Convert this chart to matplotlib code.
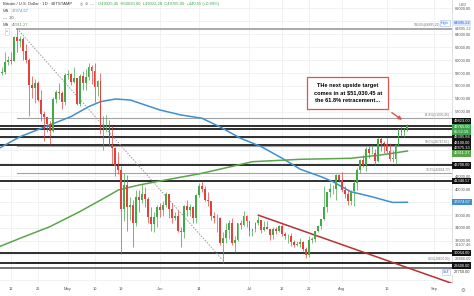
import matplotlib.pyplot as plt
import matplotlib.dates as mdates
import matplotlib.transforms as mtransforms
import numpy as np
import pandas as pd

# daily BTC/USD candles, 2021-04-08 .. 2021-08-23
start = "2021-04-08"
opens = [56000, 58080, 58100, 59770, 59990, 59840, 63580, 62950, 63200, 61380, 60020, 56200, 55700, 56480, 53800, 51700,
         51150, 50050, 49000, 54000, 55030, 54840, 53550,
         57750, 57800, 56600, 57200, 53250, 57480, 56440, 57380, 58900, 58280, 55860, 56700, 49400, 49700, 49900, 46800,
         46400, 43550, 42900, 37000, 40700, 37300, 37500, 34700, 38750, 38400, 39300, 38450, 35700, 34600, 35700,
         37300, 36700, 37600, 39200, 36900, 35500, 35800, 33600, 33400, 37400, 36700, 37300, 35600, 39100, 40500, 40100,
         38300, 38100, 35800, 35500, 35600, 31600, 32500, 33700, 34700, 31600, 32200, 34700, 34500, 35900,
         35000, 33500, 33800, 34700, 35300, 33700, 34200, 33900, 32900, 33800, 33500, 34300, 33100, 32700, 32800, 31800,
         31400, 31500, 31800, 30800, 29800, 32100, 32300, 33600, 34300, 35400, 37300, 39500, 40000, 40000, 42200,
         41500, 39900, 39200, 38200, 39700, 40900, 42900, 44600, 43800, 46300, 45600, 45600, 44400, 47800, 47100, 47000,
         45900, 44700, 44700, 46800, 49300, 48900, 49300]
highs = [58200, 58900, 61200, 60700, 61200, 63750, 64895.22, 63800, 63550, 62500, 60400, 57500, 57000, 56800, 55400,
         52100, 51200, 50500, 54300, 55400, 56400, 55150, 58000,
         58400, 57950, 58950, 57200, 57900, 58300, 58600, 59500, 59200, 59500, 56900, 58000, 51400, 51500, 50700,
         49800, 46600, 45800, 43600, 42500, 42200, 38800, 38300, 39900, 39800, 40800, 40400, 38850, 37300, 36400,
         37500, 37900, 38200, 39500, 39250, 37900, 36400, 36800, 34100, 37500, 38400, 37700, 37450, 39300, 41000, 41300,
         40500, 39500, 38200, 36400, 36100, 35750, 33300, 34800, 35200, 35500, 32700, 34700, 35300, 36600, 36000,
         35000, 33900, 34900, 35900, 35300, 35000, 35000, 33900, 34100, 34200, 34500, 34600, 33300, 33100, 33200,
         32200, 31900, 32400, 31900, 31000, 32800, 32600, 33600, 34500, 35400, 40500, 39500, 40900, 40600, 42300,
         42400, 42600, 40500, 39800, 39900, 41400, 43300, 44700, 45300, 46500, 46700, 46800, 46200, 47900, 48100,
         47400, 48000, 47100, 46000, 47000, 49400, 49800, 49500, 50100]
lows = [55800, 57650, 57900, 59250, 59400, 59840, 61300, 62000, 60000, 59600, 51300, 54200, 53400, 53600, 50500, 47500,
        48800, 47000, 48800, 53300, 53900, 52400, 53100,
        57000, 56100, 56500, 53050, 52900, 55300, 55400, 56950, 56250, 53500, 54400, 48600, 46000, 48800, 46700,
        43900, 42100, 42300, 30000, 35000, 33500, 35300, 31100, 34300, 36400, 37800, 37200, 34700, 33600, 33400,
        34200, 35700, 35900, 37200, 35600, 34800, 35300, 33400, 31000, 32400, 35800, 35900, 34700, 34800, 38800, 39600,
        38100, 37400, 35200, 34800, 33400, 31300, 28600, 31700, 32300, 31300, 30200, 32000, 33900, 34300, 34100,
        32800, 32700, 33300, 34400, 33200, 33600, 33800, 32100, 32300, 33000, 33300, 32700, 32300, 31600, 31200,
        31100, 31200, 31100, 30500, 29300, 29500, 31700, 31800, 33400, 33900, 35300, 36400, 38800, 39300, 38300,
        41100, 39500, 38700, 37600, 37500, 37400, 39900, 42500, 43500, 42800, 44800, 45400, 43800, 44200, 45900,
        45600, 45600, 44400, 44200, 43900, 46700, 48300, 48100, 49000]
closes = opens[1:] + [49765]

# moving averages
ma100_dates = ["2021-04-08", "2021-04-15", "2021-04-25", "2021-05-02", "2021-05-08", "2021-05-12", "2021-05-17",
               "2021-05-22", "2021-06-01", "2021-06-08", "2021-06-15", "2021-06-21", "2021-06-28", "2021-07-05",
               "2021-07-12", "2021-07-18", "2021-07-25", "2021-07-29", "2021-08-04", "2021-08-11", "2021-08-18",
               "2021-08-23"]
ma100_vals = [46340, 48130, 49950, 51230, 52780, 53560, 53975, 53820, 52270, 51500, 51000, 49680, 47890, 46580,
              44790, 43100, 41940, 41160, 39610, 38840, 37950, 37975]
ma200_dates = ["2021-04-08", "2021-04-15", "2021-04-25", "2021-05-05", "2021-05-12", "2021-05-18", "2021-05-25",
               "2021-06-01", "2021-06-15", "2021-07-02", "2021-07-18", "2021-08-04", "2021-08-14", "2021-08-23"]
ma200_vals = [31090, 32390, 34190, 36510, 38300, 39875, 40650, 41270, 42460, 44260, 44630, 44790, 45300, 45911.27]
ma100_last = 37974.67

# drawn levels
black_levels = [49823.00, 49395.86, 48100.00, 46875.33, 43700.00, 41340.57, 30064.00, 28600.00]
grey_levels = [27750.00]
fib_low, fib_high = 28600.00, 64895.22
fib_ratios = [0.0, 0.382, 0.5, 0.618, 1.0]
trend_dates = ["2021-04-14", "2021-06-22"]
trend_vals = [64895.22, 29000]
red_dates = ["2021-07-04", "2021-09-07"]
red_vals = [35970, 25400]

date_ticks = ["2021-04-12", "2021-04-21", "2021-05-01", "2021-05-10", "2021-05-19", "2021-06-01", "2021-06-14",
              "2021-07-01", "2021-07-12", "2021-07-21", "2021-08-01", "2021-08-16", "2021-09-01"]
date_labels = ["12", "21", "May", "10", "19", "Jun", "14", "Jul", "12", "21", "Aug", "16", "Sep"]
price_ticks = [68000, 64000, 62000, 60000, 58000, 56000, 54000, 52000, 42000, 40000, 36000, 34000, 32000]
last_price = 49765.00
extra_axis_labels = [31107.46, 28800.00]

UP, DOWN = "#45a84a", "#e4403c"
BLUE, GREEN = "#3f8fd2", "#5aa64a"
RED_BOX = "#d9534f"

plt.rcParams["font.family"] = ["Liberation Sans", "DejaVu Sans"]

W, H = 474, 296
PLOT_W, PLOT_B = 452, 283
YMIN, YMAX = 25466, 69315


def px2val(ypx):
    # pixel row of the picture -> price, used only for placing axis labels
    return YMAX - (YMAX - YMIN) * ypx / PLOT_B


df = pd.DataFrame({"open": opens, "high": highs, "low": lows, "close": closes},
                  index=pd.date_range(start, periods=len(opens), freq="D"))
x = mdates.date2num(df.index)

fig = plt.figure(figsize=(W / 100, H / 100), dpi=100)
ax = fig.add_axes([0, 1 - PLOT_B / H, PLOT_W / W, PLOT_B / H])

x0 = mdates.date2num(pd.Timestamp("2021-05-01"))
ax.set_xlim(x0 - 22.72, x0 + 128.96)
ax.set_ylim(YMIN, YMAX)
xmax = ax.get_xlim()[1]

# grid
for d in date_ticks:
    ax.axvline(mdates.date2num(pd.Timestamp(d)), color="#eef0f3", lw=0.6, zorder=0)
for p in range(26000, 70000, 2000):
    ax.axhline(p, color="#eef0f3", lw=0.6, zorder=0)

# fib retracement
fib_x0 = mdates.date2num(pd.Timestamp("2021-04-14"))
for r in fib_ratios:
    lvl = fib_low + (fib_high - fib_low) * r
    ax.plot([fib_x0, xmax], [lvl, lvl], color="#a3a3a3", lw=1.3 if r in (0.0, 1.0) else 0.8, zorder=1)
    # keep the 100% tag clear of the "High" marker
    tx = xmax - (3.8 if r == 1.0 else 0.6)
    ax.text(tx, lvl + 200, f"{r * 100:.1f}%({lvl:.2f})", fontsize=2.3, color="#777",
            ha="right", va="bottom", zorder=5)

for lvl in black_levels:
    ax.axhline(lvl, color="#1f1f1f", lw=1.3, zorder=1)
for lvl in grey_levels:
    ax.axhline(lvl, color="#6b6b6b", lw=1.3, zorder=1)

# trend lines
ax.plot(mdates.date2num(pd.to_datetime(trend_dates)), trend_vals, color="#9a9a9a", lw=0.7,
        ls=(0, (1.5, 1.5)), zorder=2)
ax.plot(mdates.date2num(pd.to_datetime(red_dates)), red_vals, color="#b5322f", lw=1.1, zorder=2)

# moving averages
ax.plot(mdates.date2num(pd.to_datetime(ma100_dates)), ma100_vals, color=BLUE, lw=1.1, zorder=3)
ax.plot(mdates.date2num(pd.to_datetime(ma200_dates)), ma200_vals, color=GREEN, lw=1.1, zorder=3)

# candles
up = df["close"] >= df["open"]
colors = np.where(up, UP, DOWN)
ax.vlines(x, df["low"], df["high"], colors=colors, lw=0.5, zorder=4)
ax.bar(x, (df["close"] - df["open"]).abs().clip(lower=60), bottom=df[["open", "close"]].min(axis=1),
       width=0.62, color=colors, lw=0, zorder=4)

# annotation box + arrow
ax.annotate("", xy=(mdates.date2num(pd.Timestamp("2021-08-22")), 50500),
            xytext=(mdates.date2num(pd.Timestamp("2021-08-17")), 52100),
            arrowprops=dict(arrowstyle="-|>", color=RED_BOX, lw=1.0, mutation_scale=5), zorder=6)
ax.text(mdates.date2num(pd.Timestamp("2021-08-03")), px2val(93),
        "THe next upside target\ncomes in at $51,030.45 at\nthe 61.8% retracement...",
        fontsize=4.1, fontweight="bold", ha="center", va="center", linespacing=1.6, zorder=7,
        bbox=dict(boxstyle="square,pad=1.1", fc="white", ec=RED_BOX, lw=0.9))

# axes styling
ax.set_xticks(mdates.date2num(pd.to_datetime(date_ticks)))
ax.set_xticklabels(date_labels)
ax.yaxis.tick_right()
ax.set_yticks(price_ticks)
ax.set_yticklabels([f"{p:.2f}" for p in price_ticks])
ax.tick_params(axis="both", length=0, labelsize=2.9, colors="#555")
ax.tick_params(axis="y", pad=2.2)
ax.tick_params(axis="x", pad=3)
for s in ["top", "left", "bottom"]:
    ax.spines[s].set_visible(False)
ax.spines["right"].set_color("#d6d9de")
ax.spines["right"].set_linewidth(0.6)

# right-hand price labels
tr = mtransforms.blended_transform_factory(ax.transAxes, ax.transData)
LX = 1 + 1.5 / PLOT_W


def axis_label(ypx, text, fc, tc="white", **kw):
    ax.text(LX, px2val(ypx), text, transform=tr, fontsize=2.9, color=tc, va="center", ha="left",
            clip_on=False, zorder=8, bbox=dict(boxstyle="square,pad=0.3", fc=fc, ec="none"), **kw)


label_rows = [121, 137.5, 142.8, 148.1, 165.3, 181, 253, 265.7]
for ypx, lvl in zip(label_rows, black_levels):
    axis_label(ypx, f"{lvl:.2f}", "#111")
axis_label(129.5, f"{last_price:.2f}\n05:52:16", "#3fa34d", linespacing=1.05)
axis_label(153.4, f"{ma200_vals[-1]:.2f}", GREEN)
axis_label(202, f"{ma100_last:.2f}", BLUE)
axis_label(23, f"{fib_high:.2f}", "#dce8f8", tc="#2962ff")
ax.text(LX + 0.003, px2val(29.5), f"{fib_high:.2f}", transform=tr, fontsize=2.9, color="#666", va="center",
        ha="left", clip_on=False)
for ypx, lvl in zip([244.8, 259], extra_axis_labels):
    ax.text(LX + 0.003, px2val(ypx), f"{lvl:.2f}", transform=tr, fontsize=2.9, color="#666", va="center",
            ha="left", clip_on=False)
axis_label(272, f"{grey_levels[0]:.2f}", "white", tc="#333")
ax.text(0.993, px2val(23), "High", transform=tr, fontsize=2.7, color="#2962ff", va="center", ha="right",
        zorder=8, bbox=dict(boxstyle="square,pad=0.25", fc="white", ec="#9dbcf2", lw=0.4))
ax.text(0.993, px2val(272), "Sell", transform=tr, fontsize=2.7, color="#2962ff", va="center", ha="right",
        zorder=8, bbox=dict(boxstyle="square,pad=0.25", fc="white", ec="#9dbcf2", lw=0.4))


def ftext(xpx, ypx, s, **kw):
    fig.text(xpx / W, 1 - ypx / H, s, va="center", **kw)


# header / legend
ftext(3, 4, "Bitcoin / U.S. Dollar · 1D · BITSTAMP", fontsize=3.0, color="#333")
ftext(80, 4, "◎  ⊕  —", fontsize=2.6, color="#888")
ftext(98, 4, "O49325.45  H50030.00  L49022.28  C49765.00  +440.55 (+0.89%)", fontsize=3.0, color="#3fa34d")
ftext(3, 11, "MA", fontsize=2.9, color="#555")
ftext(12, 11, f"{ma100_last:.2f}", fontsize=2.9, color=BLUE)
ftext(3, 18, "—  20", fontsize=2.9, color="#555")
ftext(3, 25, "MA", fontsize=2.9, color="#555")
ftext(12, 25, f"{ma200_vals[-1]:.2f}", fontsize=2.9, color=GREEN)
ftext(7, 31.5, "^", fontsize=2.8, color="#555", ha="center",
      bbox=dict(boxstyle="square,pad=0.35", fc="white", ec="#ccc", lw=0.4))
ftext(463, 5, "USD", fontsize=2.8, color="#666", ha="center")
ftext(463, 290, "⚙", fontsize=4, color="#777", ha="center")

fig.savefig("out.png", dpi=100)
